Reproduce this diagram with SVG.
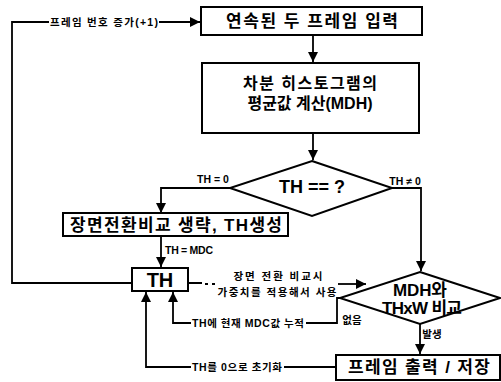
<svg xmlns="http://www.w3.org/2000/svg" width="501" height="382" viewBox="0 0 501 382">
<style>
.box{fill:#fff;stroke:#000;stroke-width:2}
.ln{fill:none;stroke:#000;stroke-width:1.8}
.t{font-family:"Liberation Sans","Noto Sans CJK KR",sans-serif;font-weight:bold;fill:#000;text-anchor:middle;dominant-baseline:central}
.big{font-size:17px}
.mid{font-size:16px}
.sm{font-size:10.5px}
.h{font-size:20px}
</style>
<defs>
<marker id="ah" markerUnits="userSpaceOnUse" markerWidth="10" markerHeight="10" refX="10" refY="5" orient="auto">
<path d="M0,0 L10,5 L0,10 z" fill="#000"/>
</marker>
</defs>
<rect width="501" height="382" fill="#fff"/>
<g id="connectors">
<path class="ln" d="M313,35 V62" marker-end="url(#ah)"/>
<path class="ln" d="M313,133 V160" marker-end="url(#ah)"/>
<path class="ln" d="M230,188 H161 V213" marker-end="url(#ah)"/>
<path class="ln" d="M392,188 H421 V271" marker-end="url(#ah)"/>
<path class="ln" d="M161,236 V267" marker-end="url(#ah)"/>
<path class="ln" d="M132,283 H12 V22 H49"/>
<path class="ln" d="M159,22 H200" marker-end="url(#ah)"/>
<path class="ln" d="M188,283 H202 M205,284 H208 M212,284 H215"/>
<path class="ln" d="M338,284 H366" marker-end="url(#ah)"/>
<path class="ln" d="M340,298 H337 V323 H306"/>
<path class="ln" d="M191,323 H173 V292" marker-end="url(#ah)"/>
<path class="ln" d="M420,324 V354" marker-end="url(#ah)"/>
<path class="ln" d="M336,367 H284"/>
<path class="ln" d="M191,367 H146 V292" marker-end="url(#ah)"/>
<text class="t sm" x="104" y="22" textLength="108" lengthAdjust="spacing">프레임 번호 증가(+1)</text>
<text class="t sm" x="213" y="179">TH = 0</text>
<text class="t sm" x="405" y="181">TH ≠ 0</text>
<text class="t sm" x="189" y="250" textLength="48" lengthAdjust="spacing">TH = MDC</text>
<text class="t sm" x="278" y="276" textLength="89" lengthAdjust="spacing">장면 전환 비교시</text>
<text class="t sm" x="277" y="292" textLength="119" lengthAdjust="spacing">가중치를 적용해서 사용</text>
<text class="t sm" x="248" y="323" textLength="112" lengthAdjust="spacing">TH에 현재 MDC값 누적</text>
<text class="t sm" x="237" y="367" textLength="90" lengthAdjust="spacing">TH를 0으로 초기화</text>
<text class="t sm" x="352" y="320">없음</text>
<text class="t sm" x="432" y="334">발생</text>
</g>
<g id="n1">
<rect class="box" x="201" y="7" width="221" height="28"/>
<text class="t big" x="312" y="21" textLength="172" lengthAdjust="spacing">연속된 두 프레임 입력</text>
</g>
<g id="n2">
<rect class="box" x="202" y="63" width="217" height="70"/>
<text class="t mid" x="310" y="83" textLength="134" lengthAdjust="spacing">차분 히스토그램의</text>
<text class="t mid" x="310" y="103">평균값 계산(MDH)</text>
</g>
<g id="n3">
<path class="box" d="M312,161 L392,188 L312,216 L230,188 Z"/>
<text class="t" style="font-size:18px" x="312" y="187">TH == ?</text>
</g>
<g id="n4">
<rect class="box" x="63" y="213" width="225" height="23"/>
<text class="t big" x="176" y="225" textLength="212" lengthAdjust="spacing">장면전환비교 생략, TH생성</text>
</g>
<g id="n5">
<rect class="box" x="132" y="268" width="56" height="23"/>
<text class="t h" x="160" y="280">TH</text>
</g>
<g id="n6">
<path class="box" d="M420,272 L500,298 L420,324 L340,298 Z"/>
<text class="t big" x="420" y="290" textLength="54" lengthAdjust="spacing">MDH와</text>
<text class="t big" x="422" y="308" textLength="80" lengthAdjust="spacing">THxW 비교</text>
</g>
<g id="n7">
<rect class="box" x="336" y="355" width="164" height="25"/>
<text class="t big" x="419" y="367" textLength="142" lengthAdjust="spacing">프레임 출력 / 저장</text>
</g>
</svg>
